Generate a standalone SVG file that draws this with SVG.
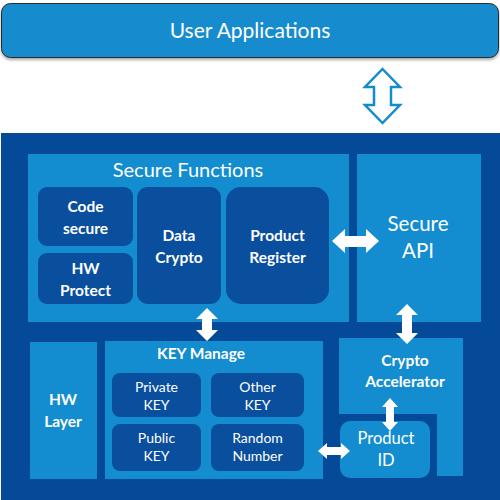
<svg xmlns="http://www.w3.org/2000/svg" width="500" height="500" viewBox="0 0 500 500">
<defs>
<filter id="sh" x="-5%" y="-20%" width="110%" height="150%"><feDropShadow dx="0" dy="2" stdDeviation="1.5" flood-color="#000" flood-opacity="0.35"/></filter>
</defs>
<style>
.t{font-family:Lato,"Open Sans","Liberation Sans",sans-serif;fill:#fff;text-anchor:middle}
.b{font-weight:bold}
.light{fill:#138dd0}
.dark{fill:#0a4e9e}
.arr{fill:#fff}
</style>
<rect width="500" height="500" fill="#fff"/>
<g id="user-apps">
<rect x="1.5" y="3.5" width="497" height="54" rx="9" fill="#128ccf" stroke="#2a2a2a" stroke-width="1" filter="url(#sh)"/>
<text class="t" x="250" y="38" font-size="21">User Applications</text>
</g>
<g id="secure-system">
<rect x="1" y="133" width="499" height="367" fill="#054a98"/>
</g>
<g id="secure-functions">
<rect class="light" x="28" y="154" width="321" height="168"/>
<text class="t" x="188" y="177" font-size="20">Secure Functions</text>
</g>
<g id="code-secure">
<rect class="dark" x="38" y="187" width="95" height="59" rx="9"/>
<text class="t b" x="85.5" y="212" font-size="15.5">Code</text>
<text class="t b" x="85.5" y="234" font-size="15.5">secure</text>
</g>
<g id="hw-protect">
<rect class="dark" x="38" y="253" width="95" height="51" rx="9"/>
<text class="t b" x="85.5" y="274" font-size="15.5">HW</text>
<text class="t b" x="85.5" y="296" font-size="15.5">Protect</text>
</g>
<g id="data-crypto">
<rect class="dark" x="137" y="187" width="84" height="117" rx="11"/>
<text class="t b" x="179" y="241" font-size="15.5">Data</text>
<text class="t b" x="179" y="263" font-size="15.5">Crypto</text>
</g>
<g id="product-register">
<rect class="dark" x="226" y="187" width="103" height="117" rx="15"/>
<text class="t b" x="277.5" y="241" font-size="15.5">Product</text>
<text class="t b" x="277.5" y="263" font-size="15.5">Register</text>
</g>
<g id="secure-api">
<rect class="light" x="357" y="154" width="124" height="168"/>
<text class="t" x="418" y="231" font-size="20.5">Secure</text>
<text class="t" x="418" y="258" font-size="20.5">API</text>
</g>
<g id="hw-layer">
<rect class="light" x="30" y="342" width="67" height="137"/>
<text class="t b" x="63" y="405" font-size="15.5">HW</text>
<text class="t b" x="63" y="427" font-size="15.5">Layer</text>
</g>
<g id="key-manage">
<rect class="light" x="105" y="341" width="218" height="138"/>
<text class="t b" x="201" y="359" font-size="15.5">KEY Manage</text>
</g>
<g id="private-key">
<rect class="dark" x="112" y="373" width="89" height="44" rx="8"/>
<text class="t" x="156.5" y="392" font-size="14">Private</text>
<text class="t" x="156.5" y="410" font-size="14">KEY</text>
</g>
<g id="other-key">
<rect class="dark" x="211" y="373" width="93" height="44" rx="8"/>
<text class="t" x="257.5" y="392" font-size="14">Other</text>
<text class="t" x="257.5" y="410" font-size="14">KEY</text>
</g>
<g id="public-key">
<rect class="dark" x="112" y="424" width="89" height="47" rx="8"/>
<text class="t" x="156.5" y="443" font-size="14">Public</text>
<text class="t" x="156.5" y="461" font-size="14">KEY</text>
</g>
<g id="random-number">
<rect class="dark" x="211" y="424" width="93" height="47" rx="8"/>
<text class="t" x="257.5" y="443" font-size="14">Random</text>
<text class="t" x="257.5" y="461" font-size="14">Number</text>
</g>
<g id="crypto-accelerator">
<path class="light" d="M339,338 H463 V476 H437 V414 H339 Z"/>
<text class="t b" x="405" y="366" font-size="15.5">Crypto</text>
<text class="t b" x="405" y="387" font-size="15.5">Accelerator</text>
</g>
<g id="product-id">
<rect class="light" x="340" y="421" width="90" height="57" rx="10"/>
<text class="t" x="386" y="444" font-size="16.5">Product</text>
<text class="t" x="386" y="466" font-size="16.5">ID</text>
</g>
<g id="connectors">
<path d="M382.5,69 L400,87 L391,87 L391,105 L400,105 L382.5,123 L365,105 L374,105 L374,87 L365,87 Z" fill="#fff" stroke="#128ccf" stroke-width="2.5" stroke-linejoin="miter"/>
<path class="arr" d="M332,241 L345,229 L345,236 L366,236 L366,229 L379,241 L366,253 L366,247 L345,247 L345,253 Z"/>
<path class="arr" d="M207,308 L218,319 L212,319 L212,330 L218,330 L207,341 L196,330 L202,330 L202,319 L196,319 Z"/>
<path class="arr" d="M407,304 L418,315 L412,315 L412,333 L418,333 L407,344 L396,333 L402,333 L402,315 L396,315 Z"/>
<path class="arr" d="M390,398 L398,407 L394,407 L394,422 L398,422 L390,431 L382,422 L386,422 L386,407 L382,407 Z"/>
<path class="arr" d="M318,451 L327,443 L327,447 L341,447 L341,443 L350,451 L341,459 L341,455 L327,455 L327,459 Z"/>
</g>
</svg>
